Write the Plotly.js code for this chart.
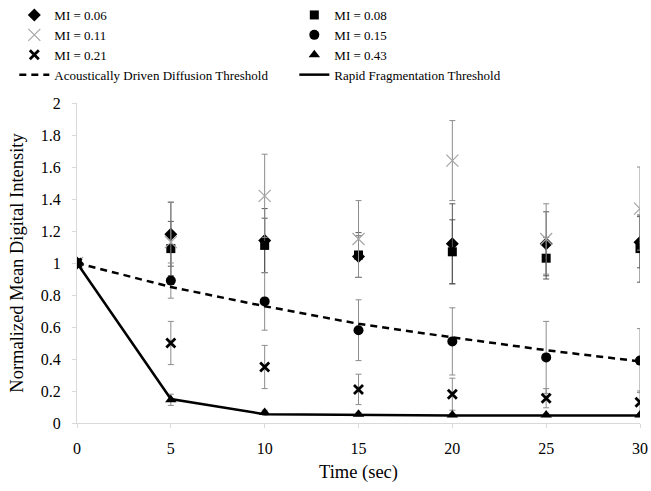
<!DOCTYPE html>
<html>
<head>
<meta charset="utf-8">
<script src="https://cdn.plot.ly/plotly-3.0.1.min.js"></script>
<style>html,body{margin:0;padding:0;background:#fff;}#chart{width:651px;height:491px;}</style>
</head>
<body>
<div id="chart"></div>
<script>
var timeSec = [0, 5, 10, 15, 20, 25, 30];

var mi006 = [1, 1.18, 1.14, 1.04, 1.12, 1.12, 1.13];
var err006 = [0, 0.2, 0.2, 0.13, 0.25, 0.2, 0.16];
var mi008 = [1, 1.09, 1.11, 1.05, 1.07, 1.03, 1.09];
var err008 = [0, 0.17, 0.17, 0.14, 0.2, 0.13, 0.21];
var mi011 = [1, 1.13, 1.42, 1.15, 1.64, 1.15, 1.34];
var err011 = [0, 0.25, 0.26, 0.24, 0.25, 0.22, 0.26];
var mi015 = [1, 0.89, 0.76, 0.58, 0.51, 0.41, 0.39];
var err015 = [0, 0.11, 0.18, 0.19, 0.21, 0.225, 0.2];
var mi021 = [1, 0.50, 0.35, 0.21, 0.18, 0.155, 0.13];
var err021 = [0, 0.135, 0.135, 0.095, 0.1, 0.06, 0.07];
var mi043 = [1, 0.145, 0.065, 0.055, 0.05, 0.05, 0.05];
var err043 = [0, 0.035, 0.015, 0.01, 0.01, 0.01, 0.01];
var diffusionThreshold = [1, 0.85, 0.73, 0.62, 0.535, 0.455, 0.385];
var fragmentationThreshold = [1, 0.15, 0.055, 0.05, 0.047, 0.047, 0.047];

var seriesNames = ['MI = 0.06', 'MI = 0.08', 'MI = 0.11', 'MI = 0.15', 'MI = 0.21', 'MI = 0.43',
  'Acoustically Driven Diffusion Threshold', 'Rapid Fragmentation Threshold'];

function errBar(arr, color) {
  return {type: 'data', array: arr, visible: true, color: color, thickness: 1, width: 3};
}
var GRAY = '#8c8c8c';
var traces = [
  {x: timeSec, y: mi006, name: seriesNames[0], mode: 'markers', type: 'scatter',
   marker: {symbol: 'diamond', size: 10, color: '#000'}, error_y: errBar(err006, '#555')},
  {x: timeSec, y: mi008, name: seriesNames[1], mode: 'markers', type: 'scatter',
   marker: {symbol: 'square', size: 9, color: '#000'}, error_y: errBar(err008, '#555')},
  {x: timeSec, y: mi011, name: seriesNames[2], mode: 'markers', type: 'scatter',
   marker: {symbol: 'x-thin-open', size: 12, color: '#a6a6a6', line: {color: '#a6a6a6', width: 1.2}}, error_y: errBar(err011, GRAY)},
  {x: timeSec, y: mi015, name: seriesNames[3], mode: 'markers', type: 'scatter',
   marker: {symbol: 'circle', size: 10, color: '#000'}, error_y: errBar(err015, GRAY)},
  {x: timeSec, y: mi021, name: seriesNames[4], mode: 'markers', type: 'scatter',
   marker: {symbol: 'x-thin-open', size: 9, color: '#000', line: {color: '#000', width: 2.8}}, error_y: errBar(err021, GRAY)},
  {x: timeSec, y: mi043, name: seriesNames[5], mode: 'markers', type: 'scatter',
   marker: {symbol: 'triangle-up', size: 10, color: '#000'}, error_y: errBar(err043, GRAY)},
  {x: timeSec, y: diffusionThreshold, name: seriesNames[6], mode: 'lines', type: 'scatter',
   line: {color: '#000', width: 2.5, dash: '7px,5px'}},
  {x: timeSec, y: fragmentationThreshold, name: seriesNames[7], mode: 'lines', type: 'scatter',
   line: {color: '#000', width: 2.5}}
];

var FONT = 'Liberation Serif';
var layout = {
  width: 651, height: 491,
  margin: {l: 77, r: 11, t: 103, b: 68},
  paper_bgcolor: '#fff', plot_bgcolor: '#fff',
  font: {family: FONT, size: 16, color: '#000'},
  showlegend: true,
  legend: {
    orientation: 'h', xref: 'container', yref: 'container', x: 0.022, y: 1,
    xanchor: 'left', yanchor: 'top', entrywidth: 235, entrywidthmode: 'pixels',
    font: {family: FONT, size: 13, color: '#000'}, bgcolor: 'rgba(0,0,0,0)', tracegroupgap: 0
  },
  xaxis: {
    range: [0, 30], dtick: 5, tick0: 0, showgrid: false, zeroline: false,
    showline: true, linecolor: '#d9d9d9', linewidth: 1,
    ticks: 'outside', ticklen: 4, tickcolor: '#d9d9d9', ticklabelstandoff: 7,
    tickfont: {family: FONT, size: 16, color: '#000'},
    title: {text: 'Time (sec)', font: {family: FONT, size: 18.5, color: '#000'}, standoff: 8}
  },
  yaxis: {
    range: [0, 2], dtick: 0.2, tick0: 0, showgrid: false, zeroline: false,
    showline: true, linecolor: '#d9d9d9', linewidth: 1,
    ticks: 'outside', ticklen: 4, tickcolor: '#d9d9d9', ticklabelstandoff: 8,
    tickfont: {family: FONT, size: 16, color: '#000'},
    title: {text: 'Normalized Mean Digital Intensity', font: {family: FONT, size: 18.5, color: '#000'}, standoff: 12}
  }
};
Plotly.newPlot('chart', traces, layout, {displayModeBar: false, staticPlot: true});
</script>
</body>
</html>
